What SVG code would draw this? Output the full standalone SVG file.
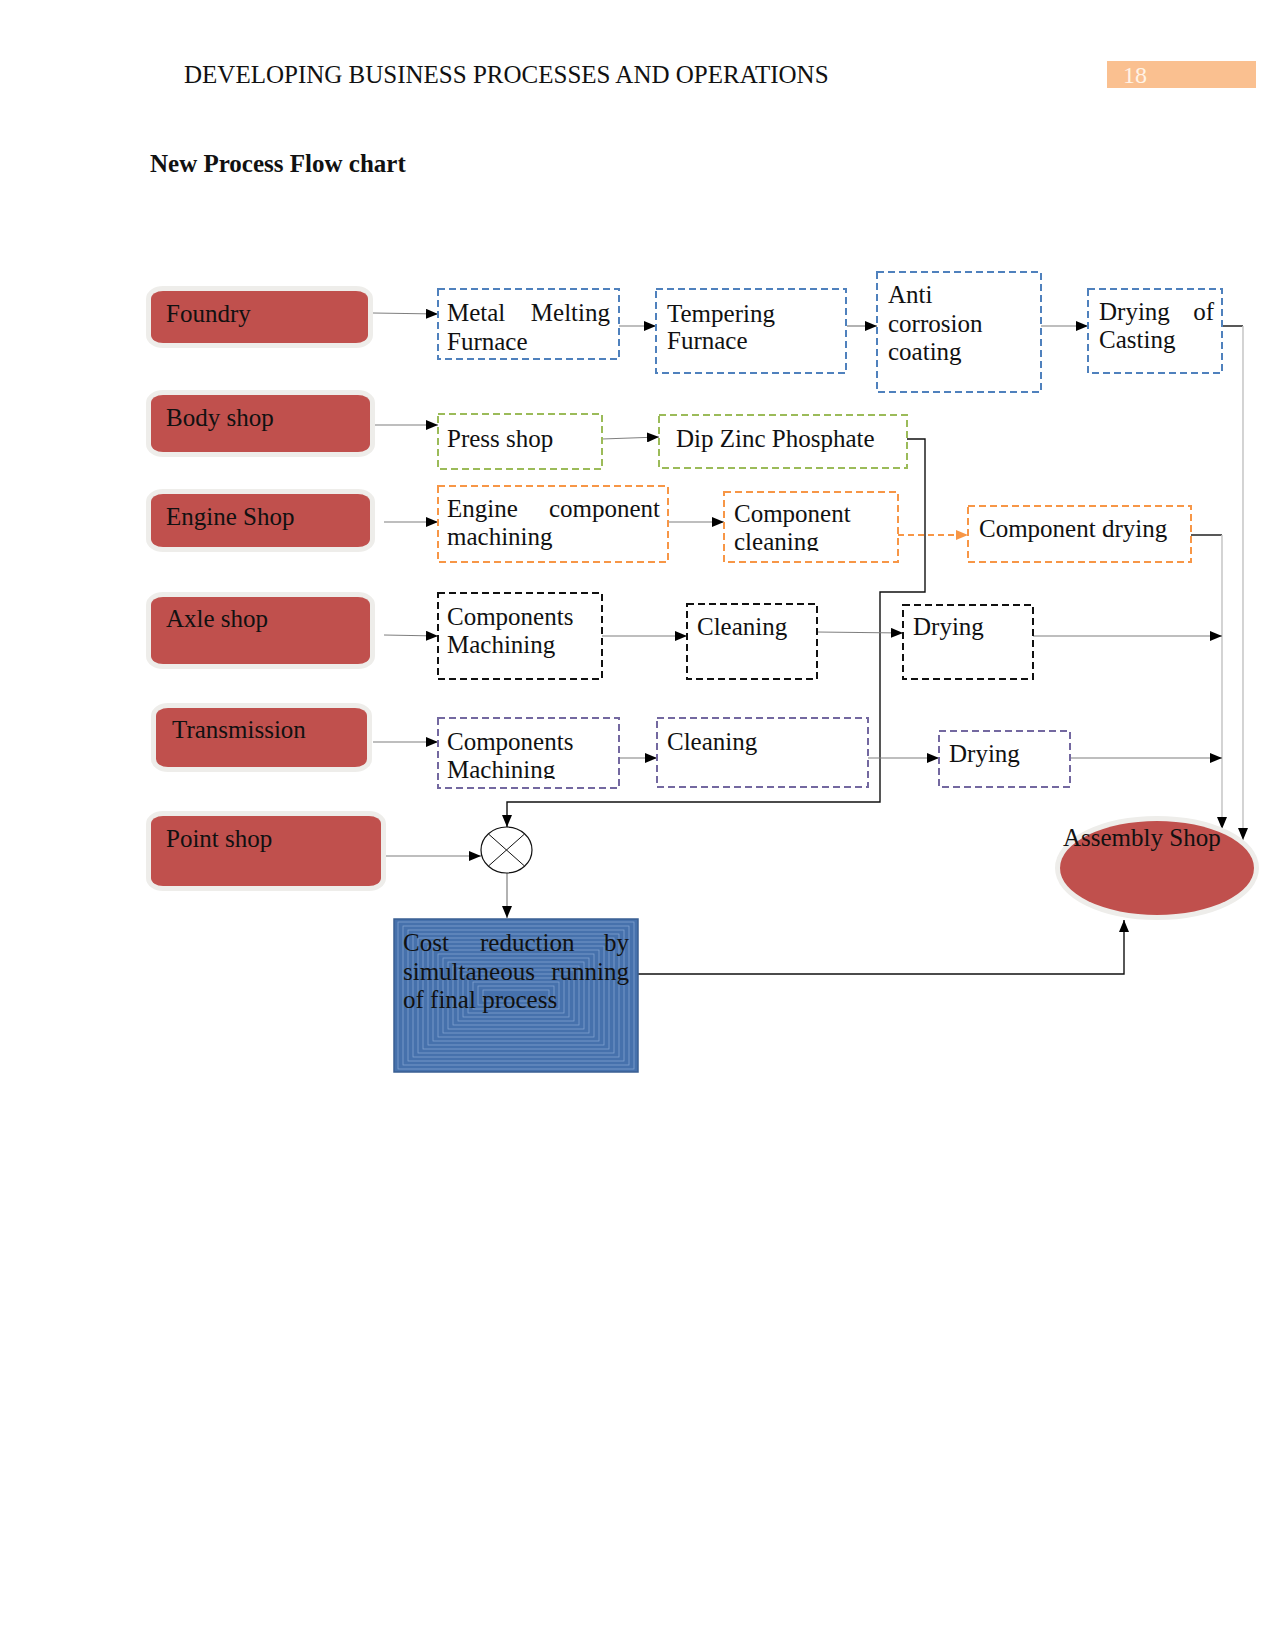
<svg xmlns="http://www.w3.org/2000/svg" width="1275" height="1650" viewBox="0 0 1275 1650">
<defs>
<style>
text{font-family:"Liberation Serif","Times New Roman",serif;font-size:25px;fill:#111}
.hdr{font-size:25px;fill:#111}
.ttl{font-weight:bold}
.pg{font-size:24px;fill:#FFF3E6}
.red{fill:#C0504D;stroke:#EEEDEA;stroke-width:10;paint-order:stroke}
.bx{fill:#fff;stroke-width:2;stroke-dasharray:7 4}
.blue{stroke:#4F81BD}
.green{stroke:#9BBB59}
.orange{stroke:#F79646}
.black{stroke:#111}
.purple{stroke:#7368A0}
.c{fill:none;stroke:#7f7f7f;stroke-width:1.2}
.k{fill:none;stroke:#111;stroke-width:1.4}
.lg{fill:none;stroke:#c9c9c9;stroke-width:1.6}
.od{fill:none;stroke:#F79646;stroke-width:2;stroke-dasharray:6 4}
</style>
<marker id="ah" viewBox="0 0 12 10" refX="12" refY="5" markerWidth="12" markerHeight="10" markerUnits="userSpaceOnUse" orient="auto"><path d="M0,0 L12,5 L0,10 Z" fill="#000"/></marker>
<marker id="ao" viewBox="0 0 12 10" refX="12" refY="5" markerWidth="12" markerHeight="10" markerUnits="userSpaceOnUse" orient="auto"><path d="M0,0 L12,5 L0,10 Z" fill="#F79646"/></marker>
<clipPath id="clipCC"><rect x="720" y="490" width="180" height="61"/></clipPath>
<clipPath id="clipTM"><rect x="436" y="716" width="185" height="63"/></clipPath>
</defs>

<g id="header">
<text class="hdr" x="184" y="83">DEVELOPING BUSINESS PROCESSES AND OPERATIONS</text>
<rect x="1107" y="61" width="149" height="27" fill="#FAC090"/>
<text class="pg" x="1123" y="83">18</text>
<text class="ttl" x="150" y="172">New Process Flow chart</text>
</g>

<g id="connectors">
<path class="c" d="M373,313 L438,314" marker-end="url(#ah)"/>
<path class="c" d="M619,326 L656,326" marker-end="url(#ah)"/>
<path class="c" d="M847,326 L877,326" marker-end="url(#ah)"/>
<path class="c" d="M1041,326 L1088,326" marker-end="url(#ah)"/>
<path class="k" d="M1221,326 H1243"/>
<path class="lg" d="M1243,326 V840" marker-end="url(#ah)"/>
<path class="c" d="M373,425 L438,425" marker-end="url(#ah)"/>
<path class="c" d="M602,439 L659,437" marker-end="url(#ah)"/>
<path class="k" d="M906,439 H925 V592 H880 V802 H507 V827" marker-end="url(#ah)"/>
<path class="c" d="M384,522 L438,522" marker-end="url(#ah)"/>
<path class="c" d="M668,522 L724,522" marker-end="url(#ah)"/>
<path class="od" d="M898,535 L968,535" marker-end="url(#ao)"/>
<path class="k" d="M1191,535 H1222"/>
<path class="lg" d="M1222,535 V829" marker-end="url(#ah)"/>
<path class="c" d="M384,635 L438,636" marker-end="url(#ah)"/>
<path class="c" d="M602,636 L687,636" marker-end="url(#ah)"/>
<path class="c" d="M817,632 L903,633" marker-end="url(#ah)"/>
<path class="c" d="M1033,636 L1222,636" marker-end="url(#ah)"/>
<path class="c" d="M373,742 L438,742" marker-end="url(#ah)"/>
<path class="c" d="M619,758 L657,758" marker-end="url(#ah)"/>
<path class="c" d="M868,758 L939,758" marker-end="url(#ah)"/>
<path class="c" d="M1070,758 L1222,758" marker-end="url(#ah)"/>
<path class="c" d="M385,856 L481,856" marker-end="url(#ah)"/>
<path class="c" d="M507,873 L507,918" marker-end="url(#ah)"/>
<path class="k" d="M638,974 H1124 V920" marker-end="url(#ah)"/>
</g>

<g id="foundry"><rect class="red" x="151" y="291" width="217" height="52" rx="12" ry="8"/><text x="166" y="322">Foundry</text></g>
<g id="body-shop"><rect class="red" x="151" y="395" width="219" height="57" rx="12" ry="8"/><text x="166" y="426">Body shop</text></g>
<g id="engine-shop"><rect class="red" x="151" y="494" width="219" height="53" rx="12" ry="8"/><text x="166" y="525">Engine Shop</text></g>
<g id="axle-shop"><rect class="red" x="151" y="597" width="219" height="67" rx="12" ry="8"/><text x="166" y="627">Axle shop</text></g>
<g id="transmission"><rect class="red" x="156" y="708" width="211" height="59" rx="12" ry="8"/><text x="172" y="738">Transmission</text></g>
<g id="point-shop"><rect class="red" x="151" y="816" width="230" height="70" rx="12" ry="8"/><text x="166" y="847">Point shop</text></g>

<g id="metal-melting"><rect class="bx blue" x="438" y="289" width="181" height="70"/><text x="447" y="321">Metal</text><text x="610" y="321" text-anchor="end">Melting</text><text x="447" y="350">Furnace</text></g>
<g id="tempering"><rect class="bx blue" x="656" y="289" width="190" height="84"/><text x="667" y="322">Tempering</text><text x="667" y="349">Furnace</text></g>
<g id="anti-corrosion"><rect class="bx blue" x="877" y="272" width="164" height="120"/><text x="888" y="303">Anti</text><text x="888" y="332">corrosion</text><text x="888" y="360">coating</text></g>
<g id="drying-casting"><rect class="bx blue" x="1088" y="289" width="134" height="84"/><text x="1099" y="320">Drying</text><text x="1214" y="320" text-anchor="end">of</text><text x="1099" y="348">Casting</text></g>

<g id="press-shop"><rect class="bx green" x="438" y="414" width="164" height="55"/><text x="447" y="447">Press shop</text></g>
<g id="dip-zinc"><rect class="bx green" x="659" y="415" width="248" height="53"/><text x="676" y="447">Dip Zinc Phosphate</text></g>

<g id="engine-component"><rect class="bx orange" x="438" y="486" width="230" height="76"/><text x="447" y="517">Engine</text><text x="660" y="517" text-anchor="end">component</text><text x="447" y="545">machining</text></g>
<g id="component-cleaning"><rect class="bx orange" x="724" y="492" width="174" height="70"/><g clip-path="url(#clipCC)"><text x="734" y="522">Component</text><text x="734" y="550">cleaning</text></g></g>
<g id="component-drying"><rect class="bx orange" x="968" y="506" width="223" height="56"/><text x="979" y="537">Component drying</text></g>

<g id="axle-machining"><rect class="bx black" x="438" y="593" width="164" height="86"/><text x="447" y="625">Components</text><text x="447" y="653">Machining</text></g>
<g id="axle-cleaning"><rect class="bx black" x="687" y="604" width="130" height="75"/><text x="697" y="635">Cleaning</text></g>
<g id="axle-drying"><rect class="bx black" x="903" y="605" width="130" height="74"/><text x="913" y="635">Drying</text></g>

<g id="trans-machining"><rect class="bx purple" x="438" y="718" width="181" height="70"/><g clip-path="url(#clipTM)"><text x="447" y="750">Components</text><text x="447" y="778">Machining</text></g></g>
<g id="trans-cleaning"><rect class="bx purple" x="657" y="718" width="211" height="69"/><text x="667" y="750">Cleaning</text></g>
<g id="trans-drying"><rect class="bx purple" x="939" y="731" width="131" height="56"/><text x="949" y="762">Drying</text></g>

<g id="junction"><ellipse cx="506.5" cy="850" rx="25.5" ry="23" fill="#fff" stroke="#111" stroke-width="1.2"/><path d="M488.5,834 L524.5,866 M524.5,834 L488.5,866" stroke="#111" stroke-width="1"/></g>

<g id="cost-reduction">
<rect x="394" y="919" width="244" height="153" fill="#4671AC" stroke="#3A5F93" stroke-width="1.5"/>
<g fill="none" stroke="#8FAEDA" stroke-width="0.8" opacity="0.8">
<rect x="398" y="922" width="236" height="147"/>
<rect x="403" y="926" width="226" height="139"/>
<rect x="408" y="930" width="216" height="131"/>
<rect x="413" y="934" width="206" height="123"/>
<rect x="418" y="938" width="196" height="115"/>
<rect x="423" y="942" width="186" height="107"/>
<rect x="428" y="946" width="176" height="99"/>
<rect x="433" y="950" width="166" height="91"/>
<rect x="438" y="954" width="156" height="83"/>
<rect x="443" y="958" width="146" height="75"/>
<rect x="448" y="962" width="136" height="67"/>
<rect x="453" y="966" width="126" height="59"/>
<rect x="458" y="970" width="116" height="51"/>
<rect x="463" y="974" width="106" height="43"/>
<rect x="468" y="978" width="96" height="35"/>
<rect x="473" y="982" width="86" height="27"/>
<rect x="478" y="986" width="76" height="19"/>
<rect x="483" y="990" width="66" height="11"/>
</g>
<text x="403" y="951">Cost</text><text x="480" y="951">reduction</text><text x="629" y="951" text-anchor="end">by</text>
<text x="403" y="980">simultaneous</text><text x="629" y="980" text-anchor="end">running</text>
<text x="403" y="1008">of final process</text>
</g>

<g id="assembly-shop"><ellipse cx="1157" cy="868" rx="97" ry="47" fill="#C0504D" stroke="#EEEDEA" stroke-width="10" style="paint-order:stroke"/><text x="1063" y="846">Assembly Shop</text></g>
</svg>
